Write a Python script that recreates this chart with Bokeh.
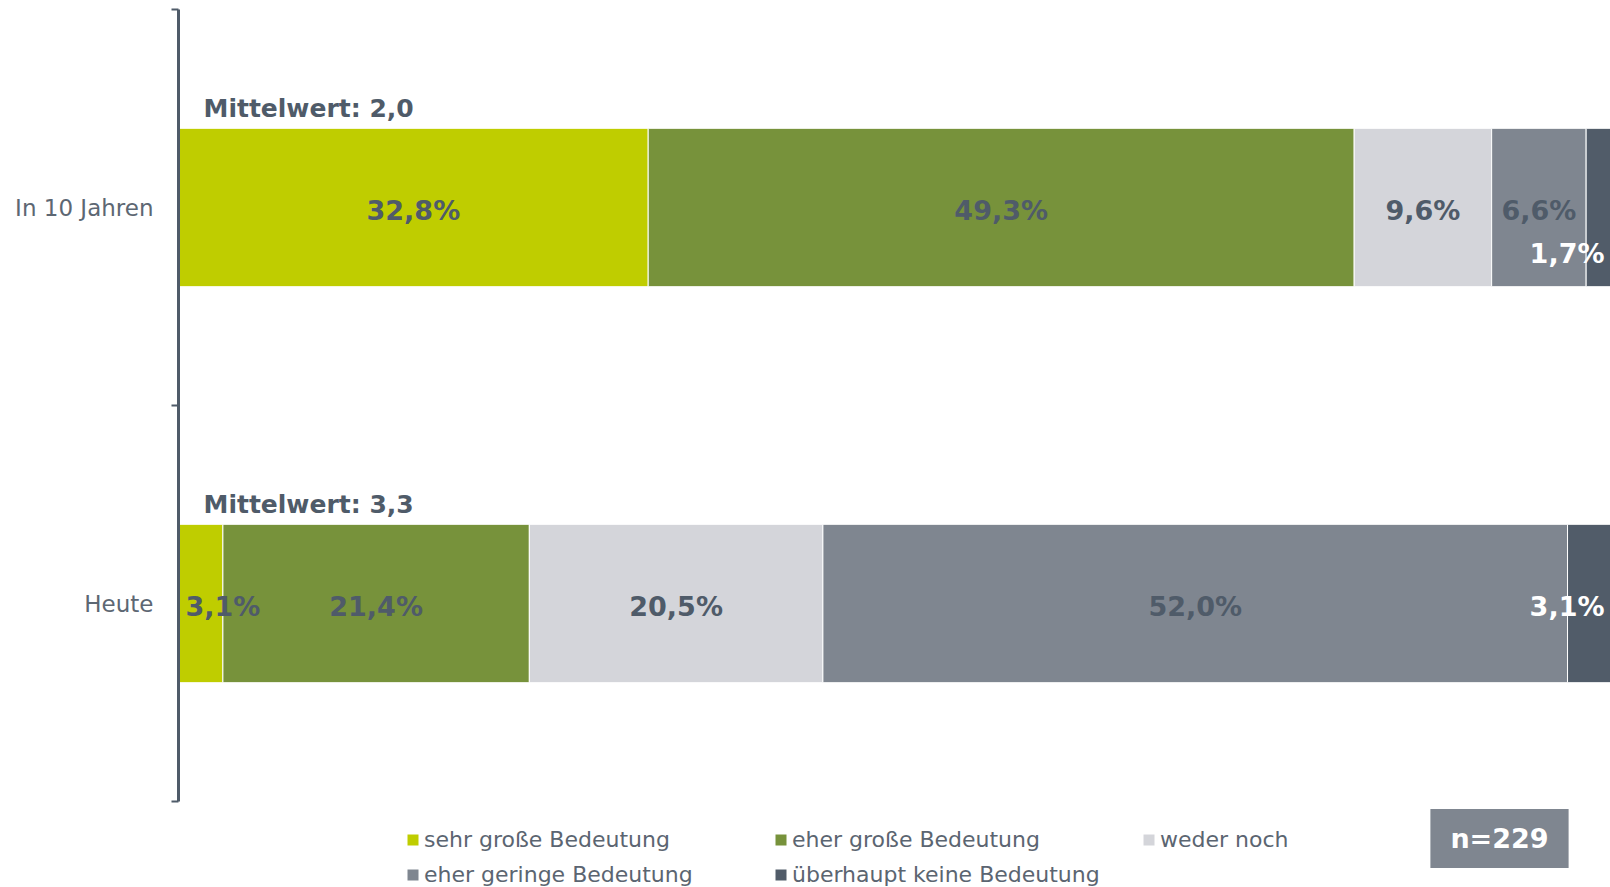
from bokeh.plotting import figure
from bokeh.models import Range1d, LinearAxis, FixedTicker, Legend, LegendItem, Label, ColumnDataSource
from bokeh.core.properties import value
from bokeh.embed import file_html
from bokeh.resources import INLINE

# ---------------- data ----------------
categories = ["Heute", "In 10 Jahren"]
series = ["sehr große Bedeutung", "eher große Bedeutung", "weder noch",
          "eher geringe Bedeutung", "überhaupt keine Bedeutung"]
sehr_gross = [3.1, 32.8]
eher_gross = [21.4, 49.3]
weder_noch = [20.5, 9.6]
eher_gering = [52.0, 6.6]
keine_bedeutung = [3.1, 1.7]
mittelwert = ["3,3", "2,0"]
sample_size = "n=229"

values = [sehr_gross, eher_gross, weder_noch, eher_gering, keine_bedeutung]
colors = ["#bfcd00", "#77923b", "#d4d5da", "#7f8690", "#515c69"]
label_colors = ["#4f5b69", "#4f5b69", "#4f5b69", "#4f5b69", "#ffffff"]

DARK = "#4f5b69"
FONT = "DejaVu Sans"

W, H = 1610, 887
frame_top = 9
units_px = 396.0
y_min = 2 - (H - frame_top) / units_px

p = figure(width=W, height=H, x_range=Range1d(0, 100), y_range=Range1d(y_min, 2),
           output_backend="svg", toolbar_location=None,
           x_axis_location=None, y_axis_location=None,
           min_border_left=178, min_border_right=0, min_border_top=frame_top,
           min_border_bottom=0)
p.outline_line_color = None
p.background_fill_color = "white"
p.border_fill_color = "white"
p.grid.visible = False

ypos = [i + 0.5 for i in range(len(categories))]
bar_h = 0.40

# ---------------- bars ----------------
renderers = []
lefts = [0.0] * len(categories)
label_rows = []
for s_idx, (name, vals) in enumerate(zip(series, values)):
    rights = [l + v for l, v in zip(lefts, vals)]
    src = ColumnDataSource(dict(y=ypos, left=list(lefts), right=rights))
    r = p.hbar(y="y", left="left", right="right", height=bar_h, source=src,
               fill_color=colors[s_idx], line_color="white", line_width=1)
    renderers.append(r)
    for c_idx, v in enumerate(vals):
        label_rows.append((s_idx, c_idx, lefts[c_idx], rights[c_idx], v))
    lefts = rights

# ---------------- segment labels ----------------
for s_idx, c_idx, l, r, v in label_rows:
    txt = f"{v:.1f}%".replace(".", ",")
    col = label_colors[s_idx]
    y_off = 3
    if v >= 5:
        x, align, x_off = (l + r) / 2, "center", 0
    elif s_idx == 0:
        x, align, x_off = l, "left", 7
    else:
        x, align, x_off = 100, "right", -6
        prev = values[s_idx - 1][c_idx]
        if prev < 8:
            y_off = 46
    p.text(x=[x], y=[ypos[c_idx]], text=[txt], text_align=align, text_baseline="middle",
           x_offset=x_off, y_offset=y_off, text_color=col,
           text_font=value(FONT), text_font_size="27px", text_font_style="bold")

# ---------------- Mittelwert labels ----------------
p.text(x=[0] * len(categories), y=[y + bar_h / 2 for y in ypos],
       text=["Mittelwert: " + m for m in mittelwert],
       text_align="left", text_baseline="alphabetic", x_offset=25, y_offset=-20,
       text_color=DARK, text_font=value(FONT), text_font_size="25px", text_font_style="bold")

# ---------------- y axis ----------------
yaxis = LinearAxis(bounds=(0, 2),
                   ticker=FixedTicker(ticks=ypos, minor_ticks=[0, 1, 2]),
                   major_label_overrides={y: c for y, c in zip(ypos, categories)})
yaxis.axis_line_color = DARK
yaxis.axis_line_width = 3
yaxis.major_tick_in = 0
yaxis.major_tick_out = 0
yaxis.minor_tick_in = 0
yaxis.minor_tick_out = 7
yaxis.minor_tick_line_color = DARK
yaxis.minor_tick_line_width = 2
yaxis.major_label_standoff = 18
yaxis.major_label_text_font = FONT
yaxis.major_label_text_font_size = "23px"
yaxis.major_label_text_color = "#5d6773"
p.add_layout(yaxis, "left")

# ---------------- legend ----------------
items = [LegendItem(label=n, renderers=[r]) for n, r in zip(series, renderers)]
legend = Legend(items=items, location=(227, 0), orientation="horizontal", ncols=3,
                glyph_width=15, glyph_height=15, label_standoff=4, label_width=339,
                spacing=10, padding=0, margin=0, border_line_color=None,
                background_fill_alpha=0, label_text_font=FONT,
                label_text_font_size="22px", label_text_color="#5b6571")
p.add_layout(legend)

# ---------------- n box ----------------
nlab = Label(x=1321, y=49, x_units="screen", y_units="screen", text=sample_size,
             text_align="center", text_baseline="middle", text_font=FONT,
             text_font_size="27px", text_font_style="bold", text_color="white",
             background_fill_color="#7f8690",
             padding=dict(left=20, right=20, top=14, bottom=14))
p.add_layout(nlab)

open("out.html", "w").write(file_html(p, INLINE))
